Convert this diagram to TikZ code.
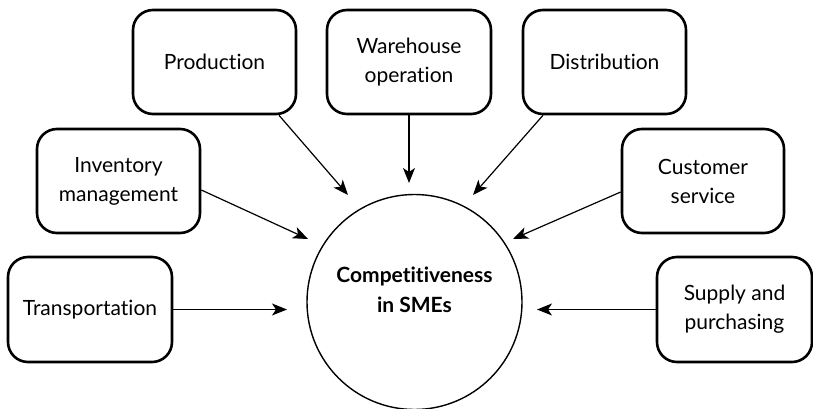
\documentclass[tikz,border=0pt]{standalone}
\usepackage{fontspec}
\setmainfont{Lato}[Ligatures=NoCommon]
\usetikzlibrary{arrows.meta}
\begin{document}
\begin{tikzpicture}[x=1pt,y=-1pt,
  factor/.style={draw, line width=2.6pt, rounded corners=20pt, align=center,
    minimum width=163pt, minimum height=104pt, inner sep=0pt,
    font=\fontsize{21}{29}\selectfont},
  hub/.style={draw, circle, line width=1.4pt, minimum size=215pt, inner sep=0pt,
    align=center, font=\fontsize{21}{30}\selectfont\bfseries},
  link/.style={line width=1.2pt, -{Stealth[length=15pt,width=12pt,inset=4pt]}}]
  \useasboundingbox (0,0) rectangle (813,409);

  % outcome in the middle
  \node[hub] (sme) at (414.5,302) {Competitiveness\\in SMEs\\[-5pt]\mbox{}};

  % logistics activities around it
  \node[factor] (prod)  at (214.5,62)  {Production};
  \node[factor, minimum width=164pt] (ware) at (409,62) {Warehouse\\operation};
  \node[factor] (dist)  at (604.5,62)  {Distribution};
  \node[factor] (inv)   at (118.5,181) {Inventory\\management};
  \node[factor, minimum width=162pt] (cust) at (703,181) {Customer\\service};
  \node[factor, minimum width=164pt, minimum height=105pt] (trans) at (90,309.5) {Transportation};
  \node[factor, minimum width=155pt, minimum height=105pt] (supp) at (734.5,309.5) {Supply and\\purchasing};

  % arrow tips, stopping short of the circle
  \coordinate (tprod)  at (348,195);
  \coordinate (tware)  at (409,183);
  \coordinate (tdist)  at (473,195);
  \coordinate (tinv)   at (308,239);
  \coordinate (tcust)  at (513,239);
  \coordinate (ttrans) at (287,309.5);
  \coordinate (tsupp)  at (537,309.5);

  \draw[link] ([xshift=64.5pt]prod.south) -- (tprod);
  \draw[link] (ware.south) -- (tware);
  \draw[link] ([xshift=-61.5pt]dist.south) -- (tdist);
  \draw[link] ([yshift=-9pt]inv.east) -- (tinv);
  \draw[link] ([yshift=-11pt]cust.west) -- (tcust);
  \draw[link] (trans.east) -- (ttrans);
  \draw[link] (supp.west) -- (tsupp);
\end{tikzpicture}
\end{document}
